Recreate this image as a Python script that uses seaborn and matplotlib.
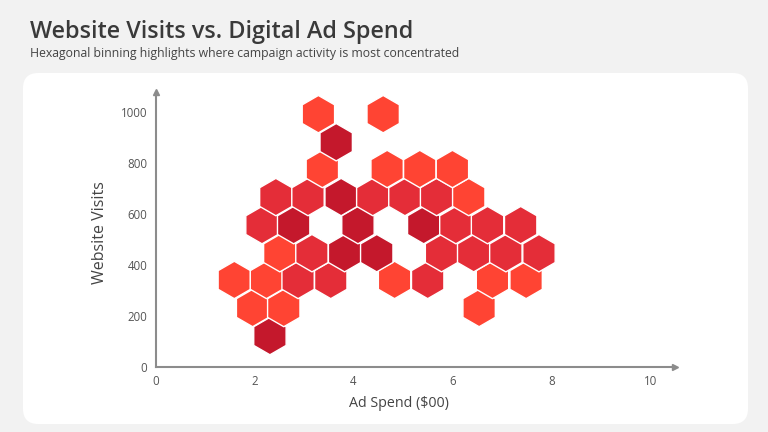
import pandas as pd
import matplotlib
matplotlib.use("Agg")
import matplotlib.pyplot as plt
import seaborn as sns
from matplotlib.colors import LinearSegmentedColormap
from matplotlib.patches import FancyBboxPatch

sns.set_theme(style="white")
plt.rcParams["font.family"] = ["Open Sans", "DejaVu Sans"]

# hex cell centres, bottom row first
ad_spend = [
    2.31,
    1.96, 2.59, 6.54,
    1.59, 2.24, 2.88, 3.54, 4.83, 5.50, 6.81, 7.49,
    2.51, 3.16, 3.82, 4.47, 5.78, 6.43, 7.08, 7.75,
    2.15, 2.79, 4.09, 5.42, 6.07, 6.71, 7.38,
    2.43, 3.08, 3.75, 4.39, 5.04, 5.68, 6.33,
    3.37, 4.68, 5.34, 6.00,
    3.65,
    3.29, 4.60,
]
visits = [
    120,
    230, 230, 230,
    340, 340, 340, 340, 340, 340, 340, 340,
    445, 445, 445, 445, 445, 445, 445, 445,
    555, 555, 555, 555, 555, 555, 555,
    665, 665, 665, 665, 665, 665, 665,
    775, 775, 775, 775,
    880,
    990, 990,
]
# density of campaigns in each cell (1 = light, 3 = darkest)
density = [
    3,
    1, 1, 1,
    1, 1, 2, 2, 1, 2, 1, 1,
    1, 2, 3, 3, 2, 2, 2, 2,
    2, 3, 3, 3, 2, 2, 2,
    2, 2, 3, 2, 2, 2, 1,
    1, 1, 1, 1,
    3,
    1, 1,
]
x_ticks = [0, 2, 4, 6, 8, 10]
y_ticks = [0, 200, 400, 600, 800, 1000]

df = pd.DataFrame({"spend": ad_spend, "visits": visits, "density": density})

axis_col = "#8C8C8C"
text_col = "#3A3A3A"
cmap = LinearSegmentedColormap.from_list("ads", ["#FF4433", "#E42D38", "#C4182C"])

fig = plt.figure(figsize=(7.68, 4.32), dpi=100)
fig.patch.set_facecolor("#F2F2F2")

# white card behind the plot
card = FancyBboxPatch(
    (23 / 768, 8 / 432), 725 / 768, 351 / 432,
    boxstyle="round,pad=0,rounding_size=0.02",
    mutation_aspect=768 / 432,
    transform=fig.transFigure, facecolor="white", edgecolor="none", zorder=-5,
)
fig.add_artist(card)

fig.text(30 / 768, 1 - 38 / 432, "Website Visits vs. Digital Ad Spend",
         fontsize=16.8, fontweight="semibold", color=text_col)
fig.text(30 / 768, 1 - 57 / 432,
         "Hexagonal binning highlights where campaign activity is most concentrated",
         fontsize=8.8, color="#444444")

ax = fig.add_axes([0.2027, 0.1512, 0.6762, 0.6359], zorder=2)
ax.set_facecolor("none")

sns.scatterplot(
    data=df, x="spend", y="visits", hue="density",
    palette=cmap, hue_norm=(1, 3), marker="h", s=725,
    linewidth=1.0, edgecolor="white", legend=False, ax=ax, zorder=3,
)

ax.set_xlim(0, 10.5)
ax.set_ylim(0, 1077)
ax.set_xticks(x_ticks)
ax.set_yticks(y_ticks)
ax.tick_params(length=0, labelsize=8.3, labelcolor="#555555", pad=6)

for side in ["top", "right"]:
    ax.spines[side].set_visible(False)
for side in ["left", "bottom"]:
    ax.spines[side].set_color(axis_col)
    ax.spines[side].set_linewidth(1.5)

# arrow heads on the axis ends
ax.plot(1, 0, ">", color=axis_col, markersize=4, transform=ax.get_yaxis_transform(), clip_on=False)
ax.plot(0, 1, "^", color=axis_col, markersize=4, transform=ax.get_xaxis_transform(), clip_on=False)

ax.set_xlabel("Ad Spend ($00)", fontsize=10.3, color="#444444")
ax.set_ylabel("Website Visits", fontsize=11.5, color="#444444")
ax.xaxis.set_label_coords(0.469, -0.105)
ax.yaxis.set_label_coords(-0.092, 0.49)

fig.savefig("out.png", dpi=100, facecolor=fig.get_facecolor())
